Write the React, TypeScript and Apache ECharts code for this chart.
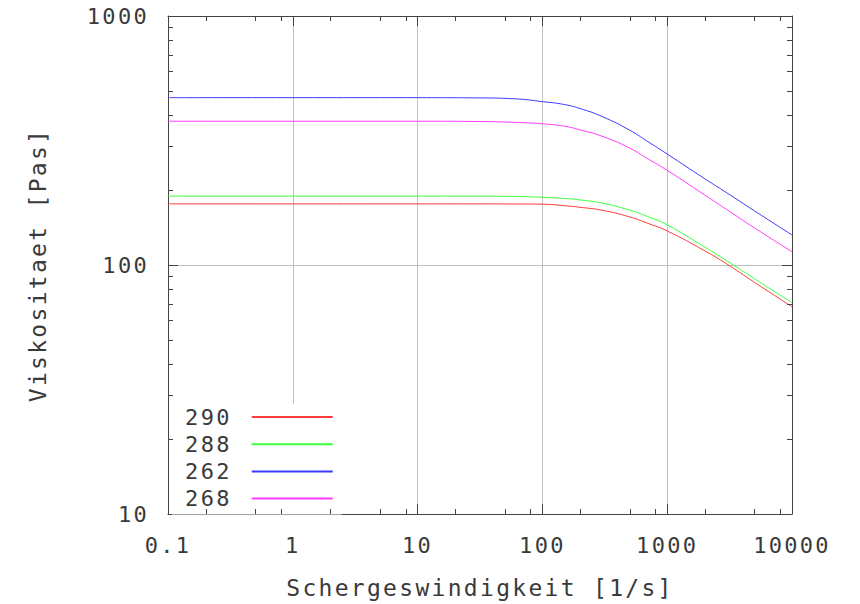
import React, { useEffect, useRef } from "react";
import * as echarts from "echarts";

// Shear rate [1/s]
const shearRates = [0.1, 1, 10, 30, 60, 100, 150, 200, 300, 500, 700, 1000, 2000, 3000, 5000, 10000];
// Viscosity [Pas] per sample
const eta290 = [176, 176, 176, 176, 175.8, 175.5, 173, 170.5, 166, 156, 147, 137, 114, 101, 85.2, 68];
const eta288 = [189, 189, 189, 189, 188.5, 187, 185, 182.5, 177.4, 166, 156.5, 145, 118, 104, 88.1, 70.6];
const eta262 = [470, 470, 470, 469, 465, 453, 441, 425, 395, 348, 313, 279, 222, 195, 165, 132];
const eta268 = [378, 378, 378, 377, 374, 369, 361, 349, 329, 295, 267, 240, 191, 167, 141, 113];

const seriesNames = ["290", "288", "262", "268"];
const seriesColors = ["#ff3b3b", "#3bff3b", "#3b3bff", "#ff3bff"];
const seriesValues = [eta290, eta288, eta262, eta268];

const xMin = 0.1;
const xMax = 10000;
const yMin = 10;
const yMax = 1000;
const minorXTicks = [0.2, 0.5, 0.8, 2, 5, 8, 20, 50, 80, 200, 500, 800, 2000, 5000, 8000];
const minorYTicks = [20, 30, 40, 50, 60, 70, 80, 90, 200, 300, 400, 500, 600, 700, 800, 900];

const FONT = "DejaVu Sans Mono";
const TEXT = "#3a3a3a";
const AXIS = "#444";

const fmt = (v: number) => String(Number(v.toPrecision(6)));

export default function App() {
  const ref = useRef<HTMLDivElement>(null);
  useEffect(() => {
    if (!ref.current) return;
    const chart = echarts.init(ref.current, undefined, { renderer: "svg" });
    const crisp = (v: number) => Math.round(v) + 0.5;
    const tickStyle = { stroke: AXIS, lineWidth: 1 };
    const option: any = {
      animation: false,
      grid: { left: 168, top: 16, width: 624, height: 508 },
      legend: {
        data: seriesNames,
        orient: "vertical",
        left: 172,
        top: 404,
        align: "right",
        itemWidth: 81,
        itemHeight: 18,
        itemGap: 5.2,
        backgroundColor: "#fff",
        padding: [2, 8, 5, 20],
        itemStyle: { opacity: 0 },
        textStyle: { fontSize: 22, fontFamily: FONT, color: TEXT, padding: [0, 15, 0, 0] },
      },
      xAxis: [
        {
          type: "log",
          logBase: 10,
          min: xMin,
          max: xMax,
          position: "bottom",
          axisLine: { show: true, lineStyle: { color: AXIS, width: 1 } },
          axisTick: { show: true, inside: true, length: 10, lineStyle: { color: AXIS } },
          axisLabel: { margin: 20, fontSize: 22, fontFamily: FONT, color: TEXT, formatter: fmt },
          splitLine: { show: true, lineStyle: { color: "#c0c0c0", width: 1 } },
          name: "Schergeswindigkeit [1/s]",
          nameLocation: "middle",
          nameGap: 62,
          nameTextStyle: { fontSize: 23, fontFamily: FONT, color: TEXT },
        },
        {
          type: "log",
          logBase: 10,
          min: xMin,
          max: xMax,
          position: "top",
          axisLine: { show: true, lineStyle: { color: AXIS, width: 1 } },
          axisTick: { show: true, inside: true, length: 10, lineStyle: { color: AXIS } },
          axisLabel: { show: false },
          splitLine: { show: false },
        },
      ],
      yAxis: [
        {
          type: "log",
          logBase: 10,
          min: yMin,
          max: yMax,
          position: "left",
          axisLine: { show: true, lineStyle: { color: AXIS, width: 1 } },
          axisTick: { show: true, inside: true, length: 10, lineStyle: { color: AXIS } },
          axisLabel: { margin: 19, fontSize: 22, fontFamily: FONT, color: TEXT, formatter: fmt },
          splitLine: { show: true, lineStyle: { color: "#c0c0c0", width: 1 } },
          name: "Viskositaet [Pas]",
          nameLocation: "middle",
          nameGap: 119,
          nameTextStyle: { fontSize: 23, fontFamily: FONT, color: TEXT },
        },
        {
          type: "log",
          logBase: 10,
          min: yMin,
          max: yMax,
          position: "right",
          axisLine: { show: true, lineStyle: { color: AXIS, width: 1 } },
          axisTick: { show: true, inside: true, length: 10, lineStyle: { color: AXIS } },
          axisLabel: { show: false },
          splitLine: { show: false },
        },
      ],
      series: [
        ...seriesNames.map((name, i) => ({
          name,
          type: "line",
          xAxisIndex: 0,
          yAxisIndex: 0,
          data: shearRates.map((x, j) => [x, seriesValues[i][j]]),
          symbol: "none",
          showSymbol: false,
          smooth: 0.5,
          lineStyle: { color: seriesColors[i], width: 1 },
          itemStyle: { color: seriesColors[i] },
          z: 3,
        })),
        {
          type: "custom",
          name: "minorX",
          xAxisIndex: 0,
          yAxisIndex: 0,
          silent: true,
          clip: false,
          z: 6,
          data: minorXTicks.map((v) => [v, yMin]),
          renderItem: (_p: any, api: any) => {
            const x = api.value(0);
            const b = api.coord([x, yMin]);
            const t = api.coord([x, yMax]);
            const cx = crisp(b[0]);
            return {
              type: "group",
              children: [
                { type: "line", shape: { x1: cx, y1: b[1], x2: cx, y2: b[1] - 5 }, style: tickStyle },
                { type: "line", shape: { x1: cx, y1: t[1], x2: cx, y2: t[1] + 5 }, style: tickStyle },
              ],
            };
          },
        },
        {
          type: "custom",
          name: "minorY",
          xAxisIndex: 0,
          yAxisIndex: 0,
          silent: true,
          clip: false,
          z: 6,
          data: minorYTicks.map((v) => [xMin, v]),
          renderItem: (_p: any, api: any) => {
            const y = api.value(1);
            const l = api.coord([xMin, y]);
            const r = api.coord([xMax, y]);
            const cy = crisp(l[1]);
            return {
              type: "group",
              children: [
                { type: "line", shape: { x1: l[0], y1: cy, x2: l[0] + 5, y2: cy }, style: tickStyle },
                { type: "line", shape: { x1: r[0], y1: cy, x2: r[0] - 5, y2: cy }, style: tickStyle },
              ],
            };
          },
        },
      ],
    };
    chart.setOption(option);
    return () => chart.dispose();
  }, []);
  return (
    <div
      ref={ref}
      style={{
        position: "fixed",
        left: 0,
        top: 0,
        width: 860,
        height: 604,
        background: "#fff",
        letterSpacing: "2.3px",
      }}
    />
  );
}
